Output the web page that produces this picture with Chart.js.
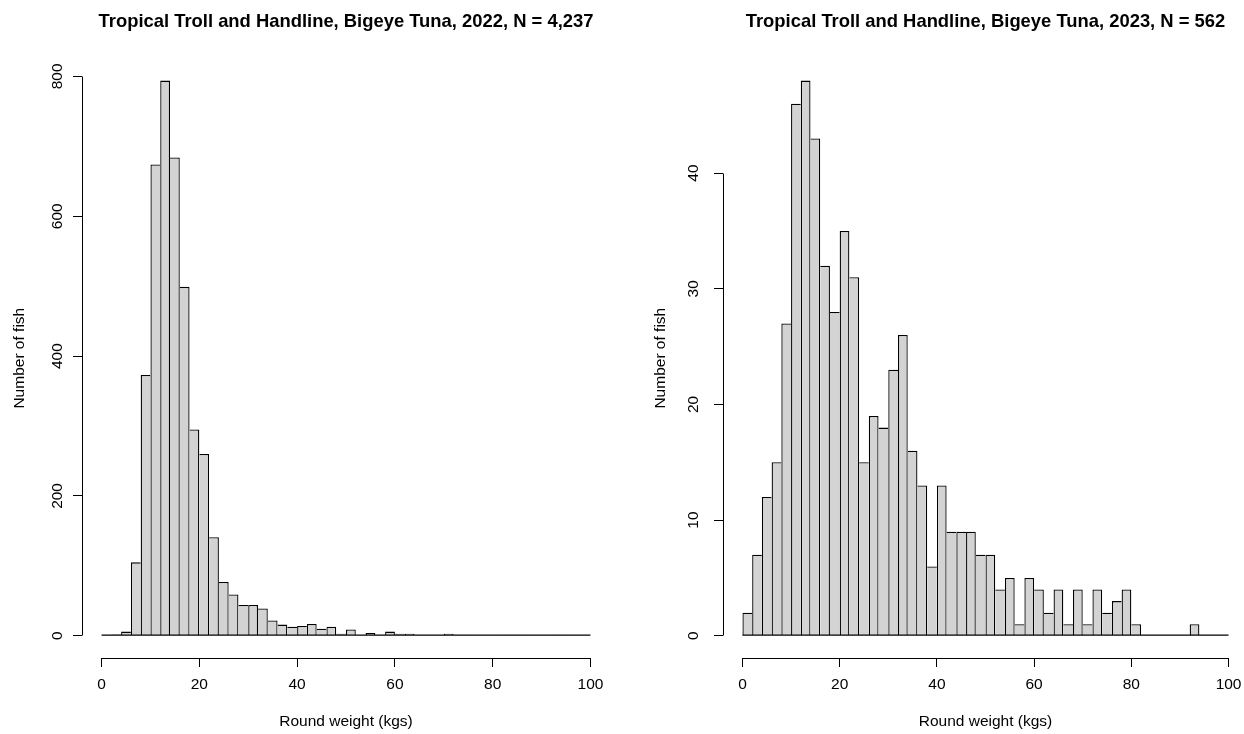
<!DOCTYPE html>
<html>
<head>
<meta charset="utf-8">
<script src="https://cdn.jsdelivr.net/npm/chart.js@4.4.1/dist/chart.umd.min.js"></script>
<style>
  html, body { margin: 0; padding: 0; background: #fff; overflow: hidden; }
  #wrap { position: relative; width: 1244px; height: 734px; overflow: hidden; }
  canvas { position: absolute; top: 0; }
  #c1 { left: 0; }
  #c2 { left: 622px; }
</style>
</head>
<body>
<div id="wrap">
  <canvas id="c1" width="622" height="734"></canvas>
  <canvas id="c2" width="640" height="734"></canvas>
</div>
<script>
// lower edge of each 2 kg weight bin
const binStarts = [0, 2, 4, 6, 8, 10, 12, 14, 16, 18, 20, 22, 24, 26, 28, 30, 32, 34, 36, 38,
                   40, 42, 44, 46, 48, 50, 52, 54, 56, 58, 60, 62, 64, 66, 68, 70, 72, 74, 76, 78,
                   80, 82, 84, 86, 88, 90, 92, 94, 96, 98];
const binWidth = 2;

// number of fish per bin
const counts2022 = [1, 2, 6, 105, 373, 674, 794, 684, 499, 295, 260, 141, 77, 59, 44, 44, 39, 22, 16, 13,
                    14, 17, 10, 13, 3, 9, 0, 4, 1, 6, 3, 3, 1, 1, 1, 3, 1, 1, 0, 0,
                    0, 1, 1, 0, 0, 0, 1, 0, 0, 0];
const counts2023 = [2, 7, 12, 15, 27, 46, 48, 43, 32, 28, 35, 31, 15, 19, 18, 23, 26, 16, 13, 6,
                    13, 9, 9, 9, 7, 7, 4, 5, 1, 5, 4, 2, 4, 1, 4, 1, 4, 2, 3, 4,
                    1, 0, 0, 0, 0, 0, 1, 0, 0, 0];

const xTicks = [0, 20, 40, 60, 80, 100];
const yTicks2022 = [0, 200, 400, 600, 800];
const yTicks2023 = [0, 10, 20, 30, 40];

const title2022 = 'Tropical Troll and Handline, Bigeye Tuna, 2022, N = 4,237';
const title2023 = 'Tropical Troll and Handline, Bigeye Tuna, 2023, N = 562';

Chart.defaults.font.family = '"Liberation Sans", Arial, sans-serif';
Chart.defaults.color = '#000';

const baseFont = { size: 15.5 };
const edge = 1.3; // bar outline width

// R style axes: line only from first to last tick, plus the zero line under the bars
const rAxes = {
  id: 'rAxes',
  afterDatasetsDraw(chart) {
    const { ctx, chartArea, scales: { x, y } } = chart;
    const al = p => Math.round(p - 0.5) + 0.5;
    ctx.save();
    ctx.strokeStyle = '#000';
    ctx.lineWidth = 1;
    ctx.beginPath();
    // x axis
    const bx = al(chartArea.bottom);
    ctx.moveTo(al(x.getPixelForValue(x.ticks[0].value)), bx);
    ctx.lineTo(al(x.getPixelForValue(x.ticks[x.ticks.length - 1].value)), bx);
    // y axis
    const lx = al(chartArea.left);
    ctx.moveTo(lx, al(y.getPixelForValue(y.ticks[0].value)));
    ctx.lineTo(lx, al(y.getPixelForValue(y.ticks[y.ticks.length - 1].value)));
    ctx.stroke();
    // bottom edges of all bins (empty bins too)
    ctx.beginPath();
    ctx.lineWidth = edge;
    const y0 = y.getPixelForValue(0) - edge / 2;
    ctx.moveTo(x.getPixelForValue(binStarts[0]), y0);
    ctx.lineTo(x.getPixelForValue(binStarts[binStarts.length - 1] + binWidth), y0);
    ctx.stroke();
    ctx.restore();
  }
};

function histChart(id, counts, yTicks, title, padLeft, padRight, yLabelPad) {
  const top = Math.max(...counts);
  const tickMarks = { display: true, drawOnChartArea: false, drawTicks: true, tickLength: 9, color: '#000', lineWidth: 1, offset: false };

  return new Chart(document.getElementById(id), {
    type: 'bar',
    data: {
      datasets: [{
        data: binStarts.map((b, i) => ({ x: b + binWidth / 2, y: counts[i] })),
        backgroundColor: '#d3d3d3',
        borderColor: '#000',
        borderSkipped: false,
        inflateAmount: 0,
        barPercentage: 1,
        categoryPercentage: 1,
        // one shared edge line between neighbouring bars, like R's rect()
        borderWidth: c => {
          const i = c.dataIndex;
          const v = counts[i];
          const left = (i === 0 || counts[i - 1] <= v) ? edge : 0;
          const right = (i === counts.length - 1 || counts[i + 1] < v) ? edge : 0;
          return { top: edge, left: left, right: right, bottom: 0 };
        }
      }]
    },
    options: {
      responsive: false,
      animation: false,
      devicePixelRatio: 1,
      layout: { padding: { left: padLeft, right: padRight, top: 0, bottom: 0 } },
      plugins: {
        legend: { display: false },
        tooltip: { enabled: false },
        title: {
          display: true,
          fullSize: false,
          text: title,
          color: '#000',
          font: { size: 18.4, weight: 'bold' },
          padding: { top: 10.5, bottom: 25.8 }
        }
      },
      scales: {
        x: {
          type: 'linear',
          min: -4,
          max: 104,
          offset: false,
          afterBuildTicks: s => { s.ticks = xTicks.map(v => ({ value: v })); },
          afterFit: s => { s.height = 76; },
          grid: tickMarks,
          border: { display: false },
          ticks: { font: baseFont, color: '#000', padding: 8, maxRotation: 0, autoSkip: false },
          title: { display: true, text: 'Round weight (kgs)', color: '#000', font: baseFont, padding: { top: 0, bottom: 3 } }
        },
        y: {
          type: 'linear',
          min: -0.04 * top,
          max: 1.04 * top,
          afterBuildTicks: s => { s.ticks = yTicks.map(v => ({ value: v })); },
          afterFit: s => { s.width = 82; },
          grid: tickMarks,
          border: { display: false },
          ticks: { font: baseFont, color: '#000', padding: yLabelPad, minRotation: 90, maxRotation: 90, crossAlign: 'center', autoSkip: false },
          title: { display: true, text: 'Number of fish', color: '#000', font: baseFont, padding: { top: 10, bottom: 0 } }
        }
      }
    },
    plugins: [rAxes]
  });
}

histChart('c1', counts2022, yTicks2022, title2022, 0, 12, 2.8);
histChart('c2', counts2023, yTicks2023, title2023, 19, 14, 11.2);
</script>
</body>
</html>
